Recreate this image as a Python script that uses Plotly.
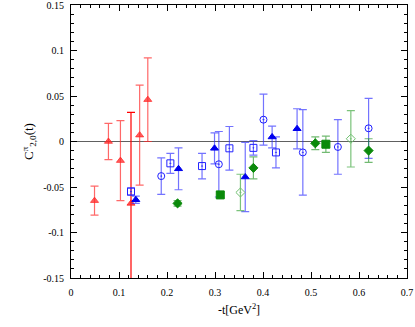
import plotly.graph_objects as go

# red triangles (light)
red_t = [0.049, 0.078, 0.103, 0.143, 0.160]
red_c = [-0.065, 0.000, -0.021, 0.007, 0.046]
red_e = [0.016, 0.020, 0.044, 0.055, 0.046]
# red triangle (dark, large error)
red2_t = [0.125]
red2_c = [-0.068]
red2_e = [0.100]

# blue open squares
sq_t = [0.125, 0.207, 0.273, 0.330, 0.380, 0.427]
sq_c = [-0.055, -0.024, -0.027, -0.0075, -0.007, -0.012]
sq_e = [0.004, 0.011, 0.014, 0.024, 0.008, 0.017]

# blue filled triangles
tri_t = [0.135, 0.224, 0.299, 0.363, 0.419, 0.471]
tri_c = [-0.064, -0.030, -0.0075, -0.039, 0.005, 0.014]
tri_e = [0.004, 0.023, 0.017, 0.038, 0.012, 0.022]

# blue open circles
circ_t = [0.188, 0.308, 0.401, 0.483, 0.556, 0.620]
circ_c = [-0.038, -0.025, 0.024, -0.012, -0.006, 0.0145]
circ_e = [0.020, 0.036, 0.028, 0.047, 0.030, 0.033]

# green filled diamonds
gd_t = [0.222, 0.380, 0.509, 0.620]
gd_c = [-0.068, -0.029, -0.002, -0.010]
gd_e = [0.003, 0.012, 0.007, 0.013]

# green filled squares
gs_t = [0.311, 0.531]
gs_c = [-0.0587, -0.003]
gs_e = [0.003, 0.009]

# green open diamonds
go_t = [0.353, 0.583]
go_c = [-0.056, 0.003]
go_e = [0.020, 0.031]

x_ticks = [0, 0.1, 0.2, 0.3, 0.4, 0.5, 0.6, 0.7]
x_text = ["0", "0.1", "0.2", "0.3", "0.4", "0.5", "0.6", "0.7"]
y_ticks = [-0.15, -0.1, -0.05, 0, 0.05, 0.1, 0.15]
y_text = ["-0.15", "-0.1", "-0.05", "0", "0.05", "0.1", "0.15"]


def series(t, c, e, symbol, color, bar_color, size=7, line_w=1):
    return go.Scatter(
        x=t, y=c, mode='markers',
        marker=dict(symbol=symbol, size=size, color=color,
                    line=dict(color=color, width=line_w)),
        error_y=dict(type='data', array=e, color=bar_color, thickness=1.2, width=4),
        showlegend=False)


traces = [
    series(red_t, red_c, red_e, 'triangle-up', 'rgba(255,40,40,0.75)', 'rgba(255,40,40,0.7)'),
    series(red2_t, red2_c, red2_e, 'triangle-up', 'rgba(255,30,30,0.8)', '#ff0000'),
    series(sq_t, sq_c, sq_e, 'square-open-dot', '#2020ff', 'rgba(40,40,255,0.65)'),
    series(tri_t, tri_c, tri_e, 'triangle-up', '#0000ee', 'rgba(40,40,255,0.65)'),
    series(circ_t, circ_c, circ_e, 'circle-open-dot', '#2020ff', 'rgba(40,40,255,0.65)'),
    series(gd_t, gd_c, gd_e, 'diamond', '#0a8a0a', 'rgba(20,140,20,0.6)', size=7),
    series(gs_t, gs_c, gs_e, 'square', '#0a8a0a', 'rgba(20,140,20,0.6)', size=8),
    series(go_t, go_c, go_e, 'diamond-open-dot', '#70c070', 'rgba(90,180,90,0.8)', size=7),
]

axis_common = dict(
    showgrid=False, showline=True, linecolor='black', linewidth=1, mirror='ticks',
    ticks='inside', ticklen=6, tickcolor='black', automargin=False,
    ticklabeloverflow='allow',
    tickfont=dict(family='Liberation Serif', size=10, color='black'),
)

layout = go.Layout(
    width=415, height=327,
    margin=dict(l=71, r=8, t=5, b=49),
    paper_bgcolor='white', plot_bgcolor='white',
    xaxis=dict(range=[0, 0.7], tickvals=x_ticks, ticktext=x_text, zeroline=False,
               ticklabelstandoff=5,
               minor=dict(dtick=0.02, ticks='inside', ticklen=3, tickcolor='black'),
               title=dict(text='-t[GeV<sup>2</sup>]', standoff=8,
                          font=dict(family='Liberation Serif', size=12, color='black')),
               **axis_common),
    yaxis=dict(range=[-0.15, 0.15], tickvals=y_ticks, ticktext=y_text,
               zeroline=True, zerolinecolor='#606060', zerolinewidth=1,
               ticklabelstandoff=4,
               minor=dict(dtick=0.01, ticks='inside', ticklen=3, tickcolor='black'),
               title=dict(text='C<sup>π</sup><sub>2,0</sub>(t)', standoff=6,
                          font=dict(family='Liberation Serif', size=13, color='black')),
               **axis_common),
)

fig = go.Figure(data=traces, layout=layout)
# drop the page's default body margin so the figure sits at the window corner
fig.write_html("out.html", config={'displayModeBar': False},
               post_script="document.body.style.margin='0';")
